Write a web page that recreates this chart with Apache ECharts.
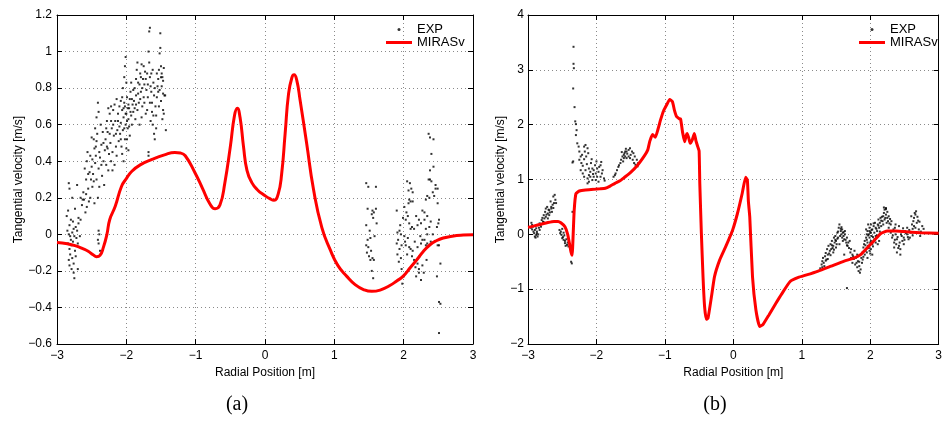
<!DOCTYPE html>
<html>
<head>
<meta charset="utf-8">
<script src="https://cdn.jsdelivr.net/npm/echarts@6/dist/echarts.min.js"></script>
<style>html,body{margin:0;padding:0;background:#fff}#c{width:945px;height:421px}</style>
</head>
<body>
<div id="c"></div>
<script>
// ---------- Data ----------
const xRange = [-3, 3];
const yRangeA = [-0.6, 1.2];
const yRangeB = [-2, 4];
const panelLabels = ['(a)', '(b)'];
const seriesNames = ['EXP', 'MIRASv'];

// Panel (a) MIRASv curve
const mirasA = [[-3.0,-0.045],[-2.85,-0.052],[-2.74,-0.062],[-2.62,-0.08],[-2.55,-0.093],[-2.48,-0.112],[-2.43,-0.122],[-2.38,-0.115],[-2.33,-0.07],[-2.28,0.0],[-2.24,0.08],[-2.16,0.153],[-2.07,0.262],[-2.0,0.305],[-1.92,0.345],[-1.8,0.38],[-1.63,0.41],[-1.45,0.435],[-1.30,0.448],[-1.22,0.445],[-1.15,0.43],[-1.01,0.337],[-0.9,0.25],[-0.8,0.17],[-0.72,0.14],[-0.65,0.16],[-0.58,0.28],[-0.50,0.48],[-0.44,0.65],[-0.40,0.69],[-0.36,0.64],[-0.31,0.48],[-0.26,0.35],[-0.19,0.283],[-0.10,0.24],[-0.02,0.217],[0.07,0.195],[0.13,0.186],[0.19,0.22],[0.24,0.33],[0.29,0.55],[0.34,0.77],[0.39,0.86],[0.42,0.873],[0.46,0.84],[0.505,0.737],[0.60,0.50],[0.70,0.245],[0.82,0.037],[0.94,-0.084],[1.05,-0.17],[1.18,-0.23],[1.30,-0.275],[1.42,-0.302],[1.54,-0.312],[1.66,-0.305],[1.80,-0.28],[1.90,-0.255],[1.99,-0.23],[2.10,-0.18],[2.19,-0.139],[2.28,-0.095],[2.38,-0.057],[2.47,-0.035],[2.57,-0.02],[2.70,-0.01],[2.86,-0.004],[3.0,-0.002]];

// Panel (a) EXP points
const expA = [
[-2.83,0.28],[-2.82,0.25],[-2.78,0.20],[-2.71,0.27],[-2.66,0.20],[-2.64,0.16],[-2.63,0.19],[-2.69,0.09],[-2.74,0.14],[-2.86,0.10],[-2.84,0.13],[-2.80,0.08],[-2.82,0.05],[-2.77,0.07],[-2.73,0.04],[-2.71,0.02],[-2.76,0.03],[-2.85,0.02],[-2.83,0.0],[-2.81,-0.01],[-2.78,0.01],[-2.75,-0.01],[-2.72,-0.02],[-2.67,-0.01],[-2.80,-0.03],[-2.84,-0.05],[-2.77,-0.04],[-2.69,0.06],[-2.66,0.08],[-2.70,-0.05],[-2.79,-0.06],[-2.82,-0.08],[-2.74,-0.09],[-2.81,-0.11],[-2.78,-0.13],[-2.73,-0.12],[-2.83,-0.14],[-2.76,-0.16],[-2.79,-0.19],[-2.76,-0.21],[-2.70,-0.19],[-2.75,-0.24],[-2.82,-0.17],
[-2.40,0.02],[-2.39,0.0],[-2.41,-0.03],[-2.40,-0.05],[-2.38,-0.09],[-2.41,0.72],[-2.40,0.67],[-2.43,0.64],
[-2.62,0.23],[-2.58,0.30],[-2.55,0.25],[-2.60,0.36],[-2.57,0.40],[-2.53,0.34],[-2.59,0.12],[-2.54,0.18],[-2.51,0.30],[-2.56,0.45],[-2.50,0.37],[-2.52,0.20],[-2.61,0.19],[-2.57,0.15],[-2.49,0.26],[-2.46,0.47],[-2.52,0.43],
[-2.48,0.33],[-2.45,0.39],[-2.43,0.30],[-2.40,0.36],[-2.38,0.42],[-2.44,0.48],[-2.47,0.52],[-2.36,0.49],[-2.42,0.55],[-2.39,0.26],[-2.35,0.32],[-2.33,0.40],[-2.31,0.46],[-2.34,0.56],[-2.45,0.58],[-2.50,0.53],[-2.37,0.60],[-2.30,0.52],[-2.29,0.38],[-2.32,0.27],[-2.41,0.20],[-2.46,0.17],[-2.44,0.43],[-2.28,0.48],
[-2.27,0.56],[-2.25,0.44],[-2.23,0.50],[-2.21,0.58],[-2.20,0.45],[-2.18,0.54],[-2.16,0.62],[-2.24,0.66],[-2.26,0.35],[-2.22,0.40],[-2.19,0.68],[-2.15,0.48],[-2.13,0.57],[-2.12,0.66],[-2.11,0.51],[-2.17,0.38],[-2.14,0.43],[-2.28,0.62],[-2.22,0.62],[-2.20,0.35],[-2.10,0.70],[-2.26,0.69],[-2.14,0.74],
[-2.09,0.55],[-2.08,0.61],[-2.07,0.48],[-2.06,0.68],[-2.05,0.57],[-2.04,0.64],[-2.03,0.72],[-2.02,0.52],[-2.01,0.60],[-2.00,0.66],[-1.99,0.75],[-1.98,0.58],[-1.97,0.63],[-1.96,0.69],[-1.95,0.54],[-1.94,0.78],[-1.93,0.65],[-1.92,0.60],[-1.91,0.71],[-2.05,0.80],[-2.03,0.86],[-2.02,0.92],[-2.01,0.97],[-2.00,0.83],[-2.06,0.44],[-2.04,0.40],[-2.00,0.47],[-1.99,0.52],[-2.08,0.73],[-1.97,0.46],[-1.95,0.74],[-1.93,0.83],[-1.90,0.67],[-2.02,0.70],[-1.98,0.69],
[-1.89,0.73],[-1.88,0.80],[-1.86,0.76],[-1.85,0.90],[-1.84,0.68],[-1.83,0.83],[-1.82,0.72],[-1.80,0.88],[-1.79,0.78],[-1.78,0.93],[-1.77,0.70],[-1.76,0.85],[-1.75,0.75],[-1.74,0.82],[-1.73,0.89],[-1.72,0.66],[-1.71,0.79],[-1.87,0.63],[-1.81,0.60],[-1.78,0.64],[-1.84,0.94],[-1.80,0.74],[-1.75,0.92],[-1.70,0.88],[-1.86,0.85],
[-1.70,0.68],[-1.69,0.75],[-1.68,1.00],[-1.67,1.11],[-1.66,1.13],[-1.67,0.94],[-1.66,0.86],[-1.65,0.62],[-1.64,0.78],[-1.63,0.72],[-1.62,0.60],[-1.61,0.65],[-1.60,0.55],[-1.59,0.52],[-1.61,0.83],[-1.62,0.90],[-1.58,0.70],[-1.57,0.58],[-1.63,0.67],[-1.68,0.45],[-1.68,0.43],[-1.56,0.75],[-1.59,0.80],[-1.65,0.81],
[-1.55,0.81],[-1.54,0.85],[-1.53,0.90],[-1.52,0.99],[-1.51,1.02],[-1.51,1.10],[-1.50,0.92],[-1.49,0.88],[-1.48,0.86],[-1.47,0.84],[-1.46,0.91],[-1.45,0.76],[-1.44,0.76],[-1.47,0.68],[-1.48,0.63],[-1.46,0.66],[-1.43,0.57],[-1.52,0.79],[-1.50,0.73],[-1.53,0.70],[-1.56,0.88],[-1.49,0.81],[-1.54,0.78],
[-2.58,0.22],[-2.55,0.33],[-2.49,0.41],[-2.47,0.29],[-2.43,0.51],[-2.39,0.45],[-2.36,0.38],[-2.33,0.50],[-2.29,0.58],[-2.27,0.47],[-2.24,0.55],[-2.22,0.70],[-2.19,0.60],[-2.17,0.71],[-2.15,0.55],[-2.12,0.62],[-2.10,0.59],[-2.08,0.52],[-2.06,0.75],[-2.04,0.69],[-2.03,0.58],[-2.01,0.66],[-1.99,0.62],[-1.97,0.71],[-1.96,0.59],[-1.94,0.67],[-1.92,0.74],[-1.90,0.79],[-1.88,0.69],[-1.86,0.71],[-1.83,0.77],[-1.81,0.82],[-1.79,0.86],[-1.77,0.80],[-1.74,0.72],[-1.72,0.85],[-1.69,0.82],[-1.66,0.72],[-1.64,0.88],[-1.60,0.76],[-1.57,0.65],[-1.50,0.86],[-1.47,0.77],
[1.46,0.28],[1.49,0.26],[1.60,0.26],[1.48,0.14],[1.55,0.13],[1.57,0.12],[1.54,0.11],[1.60,0.14],[1.61,0.06],[1.46,0.05],[1.58,-0.01],[1.52,-0.02],[1.48,-0.03],[1.46,-0.06],[1.49,-0.07],[1.53,-0.09],[1.50,-0.12],[1.55,-0.13],[1.52,-0.14],[1.57,-0.14],[1.54,-0.20],[1.56,-0.24],[1.47,-0.10],[1.51,0.02],[1.56,0.09],
[1.90,0.13],[1.91,0.01],[1.94,0.02],[1.92,-0.03],[1.90,-0.05],[1.94,-0.08],[1.91,-0.11],[1.96,-0.13],[1.97,-0.19],[2.00,-0.23],[1.98,-0.27],[1.93,-0.15],[1.95,0.05],[1.97,-0.06],[2.01,-0.01],
[2.03,-0.06],[2.06,-0.02],[2.08,-0.07],[2.10,-0.08],[2.13,-0.09],[2.15,-0.14],[2.20,-0.16],[2.22,-0.19],[2.18,-0.23],[2.25,-0.25],[2.22,-0.21],[2.20,-0.07],[2.25,-0.05],[2.34,0.0],[2.32,-0.06],[2.27,-0.03],
[2.09,0.28],[2.11,0.25],[2.13,0.23],[2.08,0.19],[2.10,0.18],[2.07,0.17],[2.13,0.18],[2.07,0.24],[2.05,0.29],[2.04,0.12],[2.03,0.08],[2.06,0.10],[2.08,0.06],[2.12,0.04],[2.10,0.03],[2.15,0.03],[2.18,0.10],[2.20,0.05],[2.22,0.08],[2.25,0.06],[2.27,0.13],[2.30,0.12],[2.34,0.10],[2.39,0.07],[2.37,0.04],[2.32,0.03],[2.30,0.08],
[2.38,0.30],[2.40,0.29],[2.46,0.27],[2.49,0.25],[2.42,0.23],[2.34,0.21],[2.44,0.21],[2.32,0.19],[2.37,0.20],[2.49,0.17],[2.51,0.08],[2.50,0.06],[2.48,0.04],[2.42,0.0],[2.39,-0.04],[2.34,-0.05],[2.30,-0.03],[2.51,-0.06],[2.53,-0.16],[2.49,-0.06],
[2.48,-0.23],[2.51,-0.37],[2.53,-0.38],[2.51,-0.54],
[2.36,0.55],[2.38,0.53],[2.43,0.52],[2.40,0.44],[2.43,0.37],[2.38,0.35],[2.36,0.30],[2.46,0.25],
[2.01,0.15],[1.99,0.09],[1.96,0.00],[2.02,-0.04],[2.05,-0.11],[2.12,-0.12],[2.17,-0.18],[2.23,-0.12],[2.27,-0.17],[2.29,-0.21],[2.33,-0.14],[2.24,-0.01],[2.16,-0.04]
];

// Panel (b) MIRASv curve
const mirasB = [[-3.0,0.13],[-2.95,0.14],[-2.86,0.17],[-2.71,0.215],[-2.62,0.235],[-2.56,0.235],[-2.52,0.21],[-2.46,0.14],[-2.42,0.0],[-2.39,-0.2],[-2.37,-0.33],[-2.355,-0.38],[-2.34,0.0],[-2.325,0.44],[-2.30,0.74],[-2.25,0.79],[-2.16,0.81],[-2.04,0.82],[-1.95,0.83],[-1.87,0.84],[-1.80,0.88],[-1.73,0.93],[-1.65,0.98],[-1.60,1.03],[-1.50,1.13],[-1.40,1.26],[-1.30,1.43],[-1.25,1.54],[-1.22,1.70],[-1.18,1.82],[-1.14,1.77],[-1.10,1.92],[-1.06,2.10],[-1.02,2.25],[-0.97,2.37],[-0.93,2.46],[-0.89,2.42],[-0.86,2.26],[-0.83,2.15],[-0.79,2.11],[-0.77,2.10],[-0.74,1.85],[-0.71,1.69],[-0.69,1.80],[-0.675,1.84],[-0.65,1.75],[-0.63,1.66],[-0.60,1.72],[-0.57,1.84],[-0.545,1.70],[-0.52,1.60],[-0.50,1.52],[-0.49,0.93],[-0.467,0.02],[-0.443,-0.77],[-0.42,-1.32],[-0.395,-1.55],[-0.37,-1.53],[-0.32,-1.14],[-0.275,-0.77],[-0.20,-0.47],[-0.11,-0.22],[-0.01,0.08],[0.06,0.38],[0.13,0.75],[0.18,1.04],[0.205,0.99],[0.22,0.60],[0.24,0.32],[0.28,-0.77],[0.33,-1.38],[0.385,-1.68],[0.43,-1.65],[0.52,-1.47],[0.62,-1.26],[0.71,-1.08],[0.83,-0.86],[0.95,-0.785],[1.07,-0.74],[1.24,-0.67],[1.43,-0.58],[1.62,-0.49],[1.77,-0.43],[1.86,-0.37],[1.96,-0.24],[2.06,-0.11],[2.15,0.01],[2.25,0.06],[2.37,0.06],[2.49,0.05],[2.73,0.03],[3.0,0.02]];

// Panel (b) EXP points
const expB = [
[-2.95,0.21],[-2.93,0.14],[-2.90,0.08],[-2.91,0.02],[-2.88,-0.01],[-2.86,-0.04],[-2.90,-0.04],[-2.87,0.05],[-2.83,0.08],[-2.81,0.14],[-2.78,0.23],[-2.76,0.29],[-2.74,0.32],[-2.71,0.38],[-2.75,0.41],[-2.69,0.44],[-2.66,0.50],[-2.64,0.54],[-2.62,0.57],[-2.63,0.69],[-2.61,0.72],[-2.59,0.57],[-2.71,0.29],[-2.77,0.35],[-2.74,0.47],[-2.69,0.35],[-2.65,0.41],[-2.80,0.26],[-2.72,0.50],[-2.67,0.60],[-2.83,0.20],[-2.88,0.11],[-2.94,0.17],[-2.92,0.05],[-2.89,-0.06],[-2.85,0.0],[-2.82,0.17],[-2.79,0.30],[-2.73,0.36],[-2.70,0.45],[-2.68,0.40],[-2.66,0.47],[-2.63,0.48],[-2.60,0.63],[-2.77,0.22],[-2.84,0.12],[-2.94,0.09],[-2.96,0.12],[-2.87,0.02],
[-2.54,0.08],[-2.52,0.05],[-2.51,-0.01],[-2.50,-0.07],[-2.48,-0.10],[-2.49,-0.05],[-2.46,-0.12],[-2.46,-0.16],[-2.43,-0.19],[-2.42,-0.15],[-2.53,0.02],[-2.47,-0.02],[-2.44,-0.09],[-2.45,-0.21],[-2.50,0.10],[-2.48,0.03],[-2.41,-0.22],[-2.37,-0.50],[-2.36,-0.53],[-2.35,0.41],
[-2.335,3.42],[-2.335,3.11],[-2.33,3.03],[-2.34,2.66],[-2.32,2.32],[-2.31,2.06],[-2.30,2.01],[-2.29,1.90],[-2.30,1.81],[-2.35,1.31],[-2.28,1.66],[-2.26,1.60],[-2.34,1.33],
[-2.25,1.51],[-2.23,1.42],[-2.21,1.45],[-2.18,1.60],[-2.16,1.63],[-2.17,1.51],[-2.13,1.57],[-2.25,1.36],[-2.22,1.30],[-2.18,1.37],[-2.15,1.42],[-2.12,1.48],[-2.23,1.17],[-2.20,1.11],[-2.16,1.17],[-2.11,1.20],[-2.09,1.14],[-2.06,1.20],[-2.04,1.17],[-2.01,1.11],[-1.99,1.20],[-1.97,1.14],[-1.94,1.05],[-1.92,1.11],[-1.89,1.02],[-1.94,1.26],[-1.99,1.05],[-2.04,1.05],[-2.09,1.05],[-2.13,1.02],[-2.11,0.96],[-2.06,0.99],[-2.01,0.99],[-1.97,0.96],[-1.93,1.32],[-2.11,1.08],[-2.18,1.05],[-2.13,0.93],[-2.14,1.28],[-2.08,1.30],[-2.02,1.26],[-1.96,1.23],[-1.91,1.17],[-2.20,1.25],[-2.05,1.10],[-1.88,0.98],[-2.07,1.37],[-2.00,1.33],
[-1.75,1.05],[-1.72,1.11],[-1.70,1.17],[-1.68,1.23],[-1.65,1.30],[-1.64,1.36],[-1.62,1.42],[-1.60,1.45],[-1.59,1.48],[-1.58,1.51],[-1.56,1.51],[-1.53,1.54],[-1.51,1.57],[-1.48,1.51],[-1.46,1.48],[-1.44,1.42],[-1.41,1.36],[-1.39,1.30],[-1.53,1.42],[-1.56,1.39],[-1.51,1.39],[-1.47,1.36],[-1.45,1.30],[-1.60,1.39],[-1.58,1.42],[-1.73,1.08],[-1.67,1.26],[-1.61,1.33],[-1.50,1.45],[-1.55,1.47],[-1.43,1.27],[-1.40,1.24],[-1.63,1.50],[-1.57,1.56],
[1.29,-0.55],[1.30,-0.49],[1.31,-0.43],[1.33,-0.58],[1.34,-0.40],[1.35,-0.34],[1.36,-0.46],[1.37,-0.27],[1.38,-0.37],[1.39,-0.21],[1.41,-0.30],[1.42,-0.18],[1.43,-0.27],[1.44,-0.12],[1.46,-0.21],[1.47,-0.06],[1.48,-0.15],[1.49,-0.03],[1.50,-0.12],[1.52,0.03],[1.53,-0.06],[1.54,0.12],[1.55,0.18],[1.57,0.06],[1.58,0.0],[1.59,0.09],[1.60,0.03],[1.61,-0.03],[1.62,-0.09],[1.63,0.06],[1.65,-0.15],[1.66,-0.06],[1.67,-0.21],[1.70,-0.12],[1.72,-0.27],[1.74,-0.37],[1.77,-0.30],[1.79,-0.43],[1.82,-0.49],[1.84,-0.58],[1.86,-0.64],[1.46,-0.33],[1.50,-0.24],[1.55,-0.18],[1.60,-0.12],[1.62,-0.37],[1.72,-0.43],[1.74,-0.52],[1.81,-0.37],[1.83,-0.67],[1.66,-0.98],[1.32,-0.52],[1.35,-0.48],[1.40,-0.35],[1.45,-0.25],[1.52,-0.08],[1.57,0.10],[1.63,0.00],[1.68,-0.15],[1.75,-0.40],[1.80,-0.52],[1.85,-0.70],[1.27,-0.62],[1.30,-0.60],
[1.38,-0.45],[1.42,-0.38],[1.44,-0.20],[1.47,-0.28],[1.49,-0.10],[1.51,-0.18],[1.53,0.05],[1.56,-0.03],[1.58,0.13],[1.59,-0.06],[1.61,0.04],[1.64,-0.10],[1.66,-0.20],[1.69,-0.25],[1.71,-0.33],[1.76,-0.45],[1.78,-0.55],[1.81,-0.60],[1.84,-0.50],
[1.87,-0.43],[1.89,-0.33],[1.90,-0.24],[1.91,-0.18],[1.92,-0.12],[1.94,-0.06],[1.94,-0.27],[1.95,0.0],[1.96,0.06],[1.96,-0.15],[1.97,-0.21],[1.99,0.12],[1.99,-0.06],[2.00,0.03],[2.01,0.18],[2.01,-0.12],[2.02,-0.03],[2.03,0.09],[2.03,-0.18],[2.05,0.15],[2.06,0.03],[2.06,-0.09],[2.07,0.21],[2.08,0.12],[2.08,-0.03],[2.10,0.06],[2.11,0.18],[2.12,0.27],[2.13,0.12],[2.14,0.21],[2.15,0.30],[2.16,0.15],[2.18,0.24],[2.19,0.33],[2.20,0.39],[2.21,0.27],[2.23,0.36],[2.24,0.21],[2.25,0.30],[1.92,-0.37],[1.95,-0.33],[1.99,-0.30],[2.01,-0.27],[1.89,-0.46],[1.88,-0.52],[1.90,-0.41],[1.96,-0.43],[2.03,-0.37],[2.01,0.03],[1.97,0.18],[1.94,0.09],[2.08,-0.15],[2.13,-0.12],[2.11,-0.18],[1.99,0.06],[2.23,0.48],[2.21,0.45],
[1.93,-0.20],[1.95,-0.10],[1.97,-0.02],[1.98,-0.25],[2.00,-0.15],[2.02,0.08],[2.04,-0.05],[2.05,0.20],[2.07,-0.10],[2.09,0.10],[2.10,-0.02],[2.12,0.16],[2.14,0.05],[2.16,0.25],[2.17,0.32],[2.19,0.18],[2.22,0.30],[1.98,0.00],[2.00,-0.35],[1.93,-0.30],[2.04,-0.22],
[2.27,0.12],[2.30,0.03],[2.32,-0.06],[2.35,-0.15],[2.37,0.0],[2.39,-0.09],[2.42,-0.21],[2.44,-0.27],[2.47,-0.12],[2.49,-0.06],[2.51,0.06],[2.54,0.0],[2.56,-0.09],[2.59,0.03],[2.61,0.18],[2.64,0.30],[2.66,0.36],[2.68,0.21],[2.71,0.09],[2.73,-0.03],[2.66,0.12],[2.63,0.24],[2.60,0.33],[2.65,0.39],[2.67,0.42],[2.69,0.32],[2.72,0.23],[2.39,-0.33],[2.44,-0.37],[2.35,-0.24],[2.30,0.18],[2.23,0.46],[2.20,0.49],[2.25,0.41],[2.27,0.33],[2.31,0.24],[2.34,0.09],[2.37,0.18],[2.42,0.15],[2.48,0.11],[2.54,0.12],[2.58,-0.06],[2.49,-0.18],[2.45,0.0],[2.38,-0.18],[2.32,0.06],[2.26,0.24],[2.76,0.15],[2.78,0.10],[2.62,-0.02],
[2.28,0.20],[2.33,-0.02],[2.36,-0.10],[2.40,-0.05],[2.41,-0.25],[2.43,-0.15],[2.46,-0.03],[2.50,-0.10],[2.52,0.02],[2.55,-0.05],[2.57,0.08],[2.62,0.10],[2.64,0.15],[2.70,0.25],[2.74,0.05],[2.29,0.28],[2.36,0.12]
];

// ---------- Chart ----------
const FONT = '"Liberation Sans", Arial, Helvetica, sans-serif';
const fmt = v => String(+(+v).toFixed(2)).replace('-', '\u2212');

function bottomX(grid) {
  return {
    type: 'value', gridIndex: grid, min: xRange[0], max: xRange[1], interval: 1, position: 'bottom',
    axisLine: { show: true, onZero: false, lineStyle: { color: '#000', width: 1 } },
    axisTick: { show: true, inside: true, length: 5, lineStyle: { color: '#000' } },
    axisLabel: { color: '#000', fontSize: 12, fontFamily: FONT, margin: 6, formatter: fmt },
    splitLine: { show: true, lineStyle: { color: '#8a8a8a', width: 1, type: [1, 3] } },
    name: 'Radial Position [m]', nameLocation: 'middle', nameGap: 15,
    nameTextStyle: { color: '#000', fontSize: 12, fontFamily: FONT }
  };
}
function topX(grid) {
  return {
    type: 'value', gridIndex: grid, min: xRange[0], max: xRange[1], interval: 1, position: 'top',
    axisLine: { show: true, onZero: false, lineStyle: { color: '#000', width: 1 } },
    axisTick: { show: true, inside: true, length: 5, lineStyle: { color: '#000' } },
    axisLabel: { show: false }, splitLine: { show: false }
  };
}
function leftY(grid, range, interval, gap, margin) {
  return {
    type: 'value', gridIndex: grid, min: range[0], max: range[1], interval: interval, position: 'left',
    axisLine: { show: true, onZero: false, lineStyle: { color: '#000', width: 1 } },
    axisTick: { show: true, inside: true, length: 5, lineStyle: { color: '#000' } },
    axisLabel: { color: '#000', fontSize: 12, fontFamily: FONT, margin: margin, formatter: fmt },
    splitLine: { show: true, lineStyle: { color: '#8a8a8a', width: 1, type: [1, 3] } },
    name: 'Tangential velocity [m/s]', nameLocation: 'middle', nameGap: gap, nameRotate: 90,
    nameTextStyle: { color: '#000', fontSize: 12, fontFamily: FONT }
  };
}
function rightY(grid, range, interval) {
  return {
    type: 'value', gridIndex: grid, min: range[0], max: range[1], interval: interval, position: 'right',
    axisLine: { show: true, onZero: false, lineStyle: { color: '#000', width: 1 } },
    axisTick: { show: true, inside: true, length: 5, lineStyle: { color: '#000' } },
    axisLabel: { show: false }, splitLine: { show: false }
  };
}
function legendAt(left) {
  return {
    left: left, top: 23, orient: 'vertical', padding: 0, itemGap: 0,
    itemWidth: 26, itemHeight: 3,
    textStyle: { color: '#000', fontSize: 13, fontFamily: FONT },
    data: [{ name: seriesNames[0], icon: 'circle' }, { name: seriesNames[1], icon: 'rect' }]
  };
}
function scatter(x, data) {
  return { name: seriesNames[0], type: 'scatter', xAxisIndex: x, yAxisIndex: x, data: data,
    symbol: 'rect', symbolSize: 2, itemStyle: { color: '#000' }, silent: true };
}
function line(x, data, smooth) {
  return { name: seriesNames[1], type: 'line', xAxisIndex: x, yAxisIndex: x, data: data,
    showSymbol: false, symbol: 'none', smooth: smooth,
    lineStyle: { color: '#ff0000', width: 3 }, itemStyle: { color: '#ff0000' } };
}

const chart = echarts.init(document.getElementById('c'), null, { renderer: 'canvas' });
chart.setOption({
  animation: false,
  backgroundColor: '#fff',
  textStyle: { fontFamily: FONT },
  grid: [
    { left: 57, top: 15, width: 416, height: 329 },
    { left: 528, top: 15, width: 416, height: 329 }
  ],
  xAxis: [bottomX(0), bottomX(1), topX(0), topX(1)],
  yAxis: [leftY(0, yRangeA, 0.2, 30, 5), leftY(1, yRangeB, 1, 21, 4), rightY(0, yRangeA, 0.2), rightY(1, yRangeB, 1)],
  legend: [legendAt(386), legendAt(859)],
  series: [scatter(0, expA), line(0, mirasA, 0.5), scatter(1, expB), line(1, mirasB, 0.15)],
  graphic: [
    { type: 'text', x: 237, y: 405, style: { text: panelLabels[0], fill: '#000', font: '20px "Liberation Serif", "DejaVu Serif", serif', align: 'center', verticalAlign: 'middle', textAlign: 'center', textVerticalAlign: 'middle' } },
    { type: 'text', x: 715, y: 405, style: { text: panelLabels[1], fill: '#000', font: '20px "Liberation Serif", "DejaVu Serif", serif', align: 'center', verticalAlign: 'middle', textAlign: 'center', textVerticalAlign: 'middle' } }
  ]
});
</script>
</body>
</html>
